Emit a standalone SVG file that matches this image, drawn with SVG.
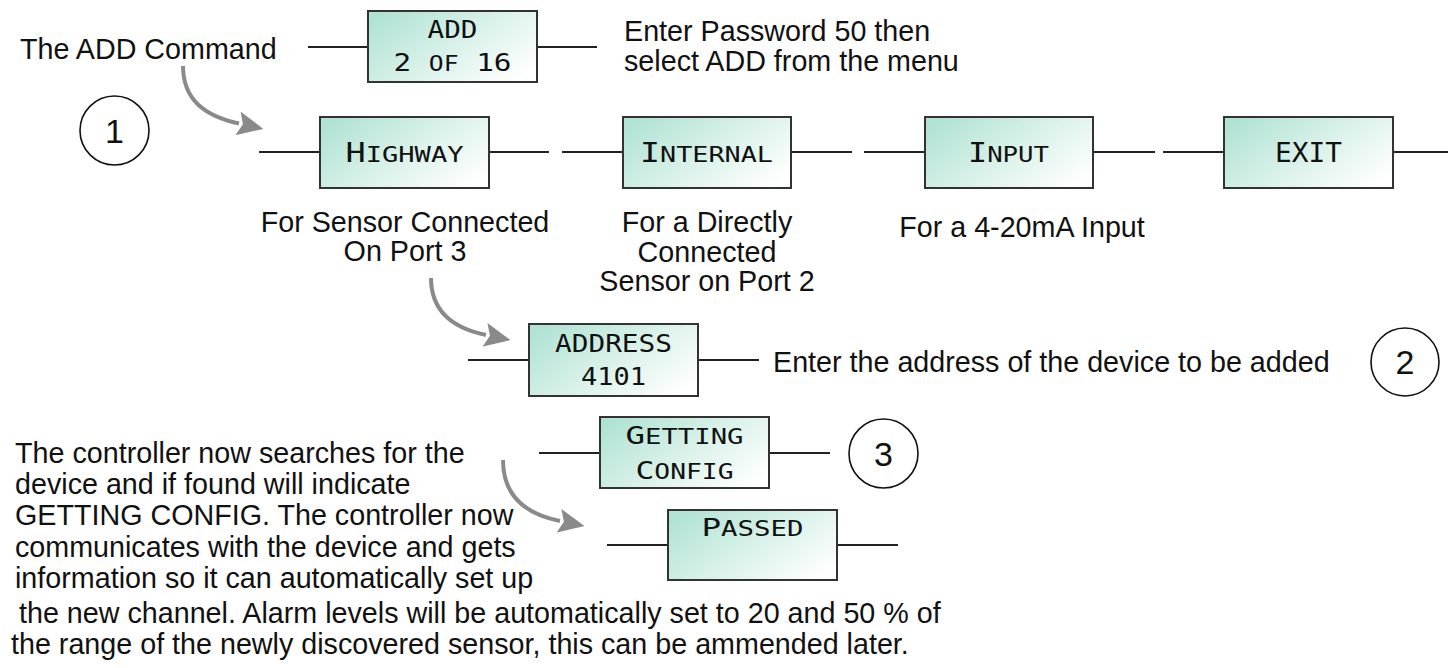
<svg xmlns="http://www.w3.org/2000/svg" width="1448" height="668" viewBox="0 0 1448 668">
<defs>
<linearGradient id="lcdfill" x1="0" y1="0.2" x2="1" y2="0.8">
<stop offset="0" stop-color="#b1e3d4"/>
<stop offset="0.5" stop-color="#d9f1e9"/>
<stop offset="1" stop-color="#ffffff"/>
</linearGradient>
<marker id="ah" markerUnits="userSpaceOnUse" markerWidth="26" markerHeight="24" viewBox="0 0 26 24" refX="1" refY="12" orient="auto">
<path d="M0,0 L26,12 L0,24 L5,12 z" fill="#8a8a8a"/>
</marker>
<style>
.t{font-family:"Liberation Sans",Arial,sans-serif;font-size:28.7px;fill:#111;}
.tc{text-anchor:middle;}
.lcd{font-family:"DejaVu Sans Mono",monospace;font-size:25px;fill:#111;text-anchor:middle;}
.big{font-size:26px;}
.sc{font-size:21px;}
.box{fill:url(#lcdfill);stroke:#333;stroke-width:2;}
.ln{stroke:#222;stroke-width:2;fill:none;}
.arr{stroke:#8a8a8a;stroke-width:4;fill:none;marker-end:url(#ah);}
.circ{fill:#fff;stroke:#111;stroke-width:1.6;}
.num{font-family:"Liberation Sans",Arial,sans-serif;font-size:34px;fill:#111;text-anchor:middle;}
</style>
</defs>

<g id="connectors">
<line class="ln" x1="308" y1="47" x2="368" y2="47"/>
<line class="ln" x1="537" y1="47" x2="597" y2="47"/>
<line class="ln" x1="259" y1="152" x2="320" y2="152"/>
<line class="ln" x1="489" y1="152" x2="549" y2="152"/>
<line class="ln" x1="562" y1="152" x2="623" y2="152"/>
<line class="ln" x1="791" y1="152" x2="852" y2="152"/>
<line class="ln" x1="864" y1="152" x2="925" y2="152"/>
<line class="ln" x1="1093" y1="152" x2="1155" y2="152"/>
<line class="ln" x1="1163" y1="152" x2="1224" y2="152"/>
<line class="ln" x1="1393" y1="152" x2="1448" y2="152"/>
<line class="ln" x1="468" y1="360" x2="529" y2="360"/>
<line class="ln" x1="698" y1="360" x2="759" y2="360"/>
<line class="ln" x1="539" y1="453" x2="600" y2="453"/>
<line class="ln" x1="769" y1="453" x2="830" y2="453"/>
<line class="ln" x1="607" y1="545" x2="668" y2="545"/>
<line class="ln" x1="837" y1="545" x2="898" y2="545"/>
<path class="arr" d="M183,66 C183,100 205,116 239,123.5"/>
<path class="arr" d="M431,278 C431,310 452,328 486,335"/>
<path class="arr" d="M503,460 C503,495 525,514 560,521"/>
</g>

<g id="add-command-label"><text class="t" x="20" y="59">The ADD Command</text></g>

<g id="node-add">
<rect class="box" x="368" y="11" width="169" height="71"/>
<text class="lcd" x="452.5" y="38" textLength="50" lengthAdjust="spacingAndGlyphs">ADD</text>
<text class="lcd" x="452.5" y="71" textLength="118" lengthAdjust="spacingAndGlyphs">2 <tspan class="sc">OF</tspan> 16</text>
</g>

<g id="add-note">
<text class="t" x="624" y="41">Enter Password 50 then</text>
<text class="t" x="624" y="71">select ADD from the menu</text>
</g>

<g id="step-1"><circle class="circ" cx="114.5" cy="130.5" r="34.5"/><text class="num" x="114.5" y="143">1</text></g>

<g id="node-highway">
<rect class="box" x="320" y="117" width="169" height="71"/>
<text class="lcd big" x="404.5" y="162" textLength="118" lengthAdjust="spacingAndGlyphs">H<tspan class="sc">IGHWAY</tspan></text>
</g>
<g id="node-internal">
<rect class="box" x="623" y="117" width="168" height="71"/>
<text class="lcd big" x="706.5" y="162" textLength="133" lengthAdjust="spacingAndGlyphs">I<tspan class="sc">NTERNAL</tspan></text>
</g>
<g id="node-input">
<rect class="box" x="925" y="117" width="168" height="71"/>
<text class="lcd big" x="1008.5" y="162" textLength="81" lengthAdjust="spacingAndGlyphs">I<tspan class="sc">NPUT</tspan></text>
</g>
<g id="node-exit">
<rect class="box" x="1224" y="117" width="169" height="71"/>
<text class="lcd big" x="1308.5" y="162" textLength="67" lengthAdjust="spacingAndGlyphs">EXIT</text>
</g>

<g id="highway-note">
<text class="t tc" x="405" y="232">For Sensor Connected</text>
<text class="t tc" x="405" y="261">On Port 3</text>
</g>
<g id="internal-note">
<text class="t tc" x="707" y="232">For a Directly</text>
<text class="t tc" x="707" y="261.5">Connected</text>
<text class="t tc" x="707" y="291">Sensor on Port 2</text>
</g>
<g id="input-note"><text class="t tc" x="1022" y="237">For a 4-20mA Input</text></g>

<g id="node-address">
<rect class="box" x="529" y="324" width="169" height="72"/>
<text class="lcd" x="613.5" y="352" textLength="117" lengthAdjust="spacingAndGlyphs">ADDRESS</text>
<text class="lcd" x="613.5" y="385" textLength="65" lengthAdjust="spacingAndGlyphs">4101</text>
</g>
<g id="address-note"><text class="t" x="773" y="372">Enter the address of the device to be added</text></g>
<g id="step-2"><circle class="circ" cx="1405" cy="362" r="34"/><text class="num" x="1405" y="374">2</text></g>

<g id="node-getting-config">
<rect class="box" x="600" y="417" width="169" height="71"/>
<text class="lcd" x="684.5" y="444" textLength="118" lengthAdjust="spacingAndGlyphs">G<tspan class="sc">ETTING</tspan></text>
<text class="lcd" x="684.5" y="479" textLength="98" lengthAdjust="spacingAndGlyphs">C<tspan class="sc">ONFIG</tspan></text>
</g>
<g id="step-3"><circle class="circ" cx="883.5" cy="453.5" r="34.5"/><text class="num" x="883.5" y="466">3</text></g>

<g id="node-passed">
<rect class="box" x="668" y="510" width="169" height="70"/>
<text class="lcd" x="752.5" y="536" textLength="102" lengthAdjust="spacingAndGlyphs">P<tspan class="sc">ASSED</tspan></text>
</g>

<g id="search-note">
<text class="t" x="15" y="463">The controller now searches for the</text>
<text class="t" x="15" y="494">device and if found will indicate</text>
<text class="t" x="15" y="525">GETTING CONFIG. The controller now</text>
<text class="t" x="15" y="557">communicates with the device and gets</text>
<text class="t" x="15" y="588">information so it can automatically set up</text>
<text class="t" x="19" y="623">the new channel. Alarm levels will be automatically set to 20 and 50 % of</text>
<text class="t" x="11" y="654">the range of the newly discovered sensor, this can be ammended later.</text>
</g>
</svg>
